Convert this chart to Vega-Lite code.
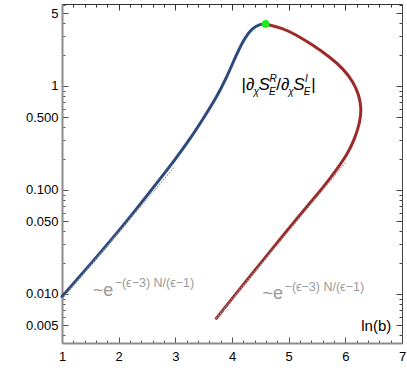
{
  "$schema": "https://vega.github.io/schema/vega-lite/v6.json",
  "width": 340,
  "height": 339,
  "autosize": "none",
  "padding": {"left": 62, "top": 4, "right": 5, "bottom": 48},
  "background": "white",
  "config": {"view": {"stroke": null}, "font": "Liberation Sans"},
  "datasets": {
    "curves": [
      {"s": "blue", "o": 1, "x": 1.0, "y": 0.0094},
      {"s": "blue", "o": 2, "x": 1.547, "y": 0.0205},
      {"s": "blue", "o": 3, "x": 2.136, "y": 0.049},
      {"s": "blue", "o": 4, "x": 2.723, "y": 0.126},
      {"s": "blue", "o": 5, "x": 3.0, "y": 0.197},
      {"s": "blue", "o": 6, "x": 3.252, "y": 0.305},
      {"s": "blue", "o": 7, "x": 3.487, "y": 0.48},
      {"s": "blue", "o": 8, "x": 3.723, "y": 0.77},
      {"s": "blue", "o": 9, "x": 3.899, "y": 1.186},
      {"s": "blue", "o": 10, "x": 4.076, "y": 1.99},
      {"s": "blue", "o": 11, "x": 4.222, "y": 2.9},
      {"s": "blue", "o": 12, "x": 4.369, "y": 3.65},
      {"s": "blue", "o": 13, "x": 4.5, "y": 3.95},
      {"s": "blue", "o": 14, "x": 4.593, "y": 3.95},
      {"s": "red", "o": 1, "x": 4.593, "y": 3.95},
      {"s": "red", "o": 2, "x": 4.898, "y": 3.6},
      {"s": "red", "o": 3, "x": 5.134, "y": 3.1},
      {"s": "red", "o": 4, "x": 5.427, "y": 2.48},
      {"s": "red", "o": 5, "x": 5.721, "y": 1.91},
      {"s": "red", "o": 6, "x": 5.956, "y": 1.48},
      {"s": "red", "o": 7, "x": 6.14, "y": 1.1},
      {"s": "red", "o": 8, "x": 6.24, "y": 0.819},
      {"s": "red", "o": 9, "x": 6.285, "y": 0.61},
      {"s": "red", "o": 10, "x": 6.26, "y": 0.453},
      {"s": "red", "o": 11, "x": 6.17, "y": 0.314},
      {"s": "red", "o": 12, "x": 6.04, "y": 0.222},
      {"s": "red", "o": 13, "x": 5.84, "y": 0.155},
      {"s": "red", "o": 14, "x": 5.603, "y": 0.104},
      {"s": "red", "o": 15, "x": 5.31, "y": 0.068},
      {"s": "red", "o": 16, "x": 5.016, "y": 0.0435},
      {"s": "red", "o": 17, "x": 4.781, "y": 0.0302},
      {"s": "red", "o": 18, "x": 4.31, "y": 0.0146},
      {"s": "red", "o": 19, "x": 3.723, "y": 0.0058}
    ],
    "asym": [
      {"s": "blue", "o": 1, "x": 1.0, "y": 0.0089},
      {"s": "blue", "o": 2, "x": 2.987, "y": 0.1675},
      {"s": "red", "o": 1, "x": 3.72, "y": 0.0058},
      {"s": "red", "o": 2, "x": 6.016, "y": 0.187}
    ],
    "peak": [{"x": 4.593, "y": 3.95}],
    "lab": [
      {"role": "main", "t": "|∂", "x": 4.169, "y": 0.915},
      {"role": "sub", "t": "χ", "x": 4.381, "y": 0.915},
      {"role": "ital", "t": "S", "x": 4.469, "y": 0.915},
      {"role": "sup", "t": "R", "x": 4.66, "y": 0.915},
      {"role": "sub", "t": "E", "x": 4.655, "y": 0.915},
      {"role": "main", "t": "/∂", "x": 4.78, "y": 0.915},
      {"role": "sub", "t": "χ", "x": 4.992, "y": 0.915},
      {"role": "ital", "t": "S", "x": 5.08, "y": 0.915},
      {"role": "sup", "t": "I", "x": 5.29, "y": 0.915},
      {"role": "sub", "t": "E", "x": 5.265, "y": 0.915},
      {"role": "main", "t": "|", "x": 5.4, "y": 0.915}
    ],
    "gray": [
      {"role": "big", "t": "~e", "x": 1.541, "y": 0.00953},
      {"role": "exp", "t": "−(ϵ−3) N/(ϵ−1)", "x": 1.929, "y": 0.01162},
      {"role": "big", "t": "~e", "x": 4.54, "y": 0.00891},
      {"role": "exp", "t": "−(ϵ−3) N/(ϵ−1)", "x": 4.928, "y": 0.01064}
    ],
    "xlab": [{"t": "ln(b)", "x": 6.811, "y": 0.00439}]
  },
  "layer": [
    {
      "data": {"name": "curves"},
      "mark": {"type": "line", "strokeWidth": 3, "strokeCap": "round", "interpolate": "basis"},
      "encoding": {
        "x": {"field": "x", "type": "quantitative", "scale": {"domain": [1, 7], "nice": false, "zero": false},
          "axis": {"orient": "bottom", "title": null, "grid": false,
            "values": [1,1.2,1.4,1.6,1.8,2,2.2,2.4,2.6,2.8,3,3.2,3.4,3.6,3.8,4,4.2,4.4,4.6,4.8,5,5.2,5.4,5.6,5.8,6,6.2,6.4,6.6,6.8,7],
            "labelExpr": "indexof([1,2,3,4,5,6,7], datum.value) >= 0 ? format(datum.value, 'd') : ''",
            "tickSize": {"condition": {"test": "indexof([1,2,3,4,5,6,7], datum.value) >= 0", "value": -6}, "value": -3},
            "domainColor": "#8c8c8c", "domainWidth": 2, "tickColor": "#555", "labelColor": "black",
            "labelFontSize": 13, "labelFont": "Liberation Sans", "labelPadding": 13, "labelFlush": false}},
        "y": {"field": "y", "type": "quantitative", "scale": {"type": "log", "domain": [0.00336, 6.15], "nice": false},
          "axis": {"orient": "left", "title": null, "grid": false,
            "values": [0.003,0.004,0.005,0.006,0.007,0.008,0.009,0.01,0.02,0.03,0.04,0.05,0.06,0.07,0.08,0.09,0.1,0.2,0.3,0.4,0.5,0.6,0.7,0.8,0.9,1,2,3,4,5,6],
            "labelExpr": "indexof([0.005,0.01,0.05,0.1,0.5,1,5], datum.value) >= 0 ? (datum.value < 1 ? format(datum.value, '.3f') : format(datum.value, 'd')) : ''",
            "tickSize": {"condition": {"test": "indexof([0.005,0.01,0.05,0.1,0.5,1,5], datum.value) >= 0", "value": -6}, "value": -3},
            "domainColor": "#8c8c8c", "domainWidth": 2, "tickColor": "#555", "labelColor": "black",
            "labelFontSize": 13, "labelFont": "Liberation Sans", "labelPadding": 10, "labelFlush": false}},
        "color": {"field": "s", "type": "nominal", "scale": {"domain": ["blue", "red"], "range": ["#2e4a7d", "#9b2b2b"]}, "legend": null},
        "order": {"field": "o", "type": "quantitative"}
      }
    },
    {
      "data": {"name": "asym"},
      "mark": {"type": "line", "strokeWidth": 1.2, "strokeDash": [1.5, 1.5], "color": "#9a9a9a"},
      "encoding": {
        "x": {"field": "x", "type": "quantitative", "scale": {"domain": [1, 7], "nice": false, "zero": false},
          "axis": {"orient": "top", "title": null, "grid": false, "labels": false,
            "values": [1,1.2,1.4,1.6,1.8,2,2.2,2.4,2.6,2.8,3,3.2,3.4,3.6,3.8,4,4.2,4.4,4.6,4.8,5,5.2,5.4,5.6,5.8,6,6.2,6.4,6.6,6.8,7],
            "tickSize": {"condition": {"test": "indexof([1,2,3,4,5,6,7], datum.value) >= 0", "value": -6}, "value": -3},
            "domainColor": "#333", "domainWidth": 1, "tickColor": "#333"}},
        "y": {"field": "y", "type": "quantitative", "scale": {"type": "log", "domain": [0.00336, 6.15], "nice": false},
          "axis": {"orient": "right", "title": null, "grid": false, "labels": false,
            "values": [0.003,0.004,0.005,0.006,0.007,0.008,0.009,0.01,0.02,0.03,0.04,0.05,0.06,0.07,0.08,0.09,0.1,0.2,0.3,0.4,0.5,0.6,0.7,0.8,0.9,1,2,3,4,5,6],
            "tickSize": {"condition": {"test": "indexof([0.005,0.01,0.05,0.1,0.5,1,5], datum.value) >= 0", "value": -6}, "value": -3},
            "domainColor": "#444", "domainWidth": 1, "tickColor": "#444"}},
        "detail": {"field": "s", "type": "nominal"},
        "order": {"field": "o", "type": "quantitative"}
      }
    },
    {
      "data": {"name": "peak"},
      "mark": {"type": "circle", "size": 60, "color": "#1fe81f", "opacity": 1},
      "encoding": {
        "x": {"field": "x", "type": "quantitative", "scale": {"domain": [1, 7], "nice": false, "zero": false}, "axis": null},
        "y": {"field": "y", "type": "quantitative", "scale": {"type": "log", "domain": [0.00336, 6.15], "nice": false}, "axis": null}
      }
    },
    {
      "data": {"name": "lab"},
      "transform": [{"filter": "datum.role == 'main'"}],
      "mark": {"type": "text", "align": "left", "baseline": "alphabetic", "fontSize": 17, "font": "Liberation Sans", "color": "black"},
      "encoding": {
        "x": {"field": "x", "type": "quantitative", "scale": {"domain": [1, 7], "nice": false, "zero": false}, "axis": null},
        "y": {"field": "y", "type": "quantitative", "scale": {"type": "log", "domain": [0.00336, 6.15], "nice": false}, "axis": null},
        "text": {"field": "t"}
      }
    },
    {
      "data": {"name": "lab"},
      "transform": [{"filter": "datum.role == 'ital'"}],
      "mark": {"type": "text", "align": "left", "baseline": "alphabetic", "fontSize": 17, "fontStyle": "italic", "font": "Liberation Sans", "color": "black"},
      "encoding": {
        "x": {"field": "x", "type": "quantitative", "scale": {"domain": [1, 7], "nice": false, "zero": false}, "axis": null},
        "y": {"field": "y", "type": "quantitative", "scale": {"type": "log", "domain": [0.00336, 6.15], "nice": false}, "axis": null},
        "text": {"field": "t"}
      }
    },
    {
      "data": {"name": "lab"},
      "transform": [{"filter": "datum.role == 'sub'"}],
      "mark": {"type": "text", "align": "left", "baseline": "alphabetic", "fontSize": 10, "fontStyle": "italic", "font": "Liberation Sans", "color": "black", "dy": 5},
      "encoding": {
        "x": {"field": "x", "type": "quantitative", "scale": {"domain": [1, 7], "nice": false, "zero": false}, "axis": null},
        "y": {"field": "y", "type": "quantitative", "scale": {"type": "log", "domain": [0.00336, 6.15], "nice": false}, "axis": null},
        "text": {"field": "t"}
      }
    },
    {
      "data": {"name": "lab"},
      "transform": [{"filter": "datum.role == 'sup'"}],
      "mark": {"type": "text", "align": "left", "baseline": "alphabetic", "fontSize": 10, "fontStyle": "italic", "font": "Liberation Sans", "color": "black", "dy": -8},
      "encoding": {
        "x": {"field": "x", "type": "quantitative", "scale": {"domain": [1, 7], "nice": false, "zero": false}, "axis": null},
        "y": {"field": "y", "type": "quantitative", "scale": {"type": "log", "domain": [0.00336, 6.15], "nice": false}, "axis": null},
        "text": {"field": "t"}
      }
    },
    {
      "data": {"name": "gray"},
      "transform": [{"filter": "datum.role == 'big'"}],
      "mark": {"type": "text", "align": "left", "baseline": "alphabetic", "fontSize": 18, "font": "Liberation Sans", "color": "#9a9a9a"},
      "encoding": {
        "x": {"field": "x", "type": "quantitative", "scale": {"domain": [1, 7], "nice": false, "zero": false}, "axis": null},
        "y": {"field": "y", "type": "quantitative", "scale": {"type": "log", "domain": [0.00336, 6.15], "nice": false}, "axis": null},
        "text": {"field": "t"}
      }
    },
    {
      "data": {"name": "gray"},
      "transform": [{"filter": "datum.role == 'exp'"}],
      "mark": {"type": "text", "align": "left", "baseline": "alphabetic", "fontSize": 12.5, "font": "Liberation Sans", "color": "#9a9a9a"},
      "encoding": {
        "x": {"field": "x", "type": "quantitative", "scale": {"domain": [1, 7], "nice": false, "zero": false}, "axis": null},
        "y": {"field": "y", "type": "quantitative", "scale": {"type": "log", "domain": [0.00336, 6.15], "nice": false}, "axis": null},
        "text": {"field": "t"}
      }
    },
    {
      "data": {"name": "xlab"},
      "mark": {"type": "text", "align": "right", "baseline": "alphabetic", "fontSize": 15, "font": "Liberation Sans", "color": "black"},
      "encoding": {
        "x": {"field": "x", "type": "quantitative", "scale": {"domain": [1, 7], "nice": false, "zero": false}, "axis": null},
        "y": {"field": "y", "type": "quantitative", "scale": {"type": "log", "domain": [0.00336, 6.15], "nice": false}, "axis": null},
        "text": {"field": "t"}
      }
    }
  ],
  "resolve": {"axis": {"x": "independent", "y": "independent"}}
}
